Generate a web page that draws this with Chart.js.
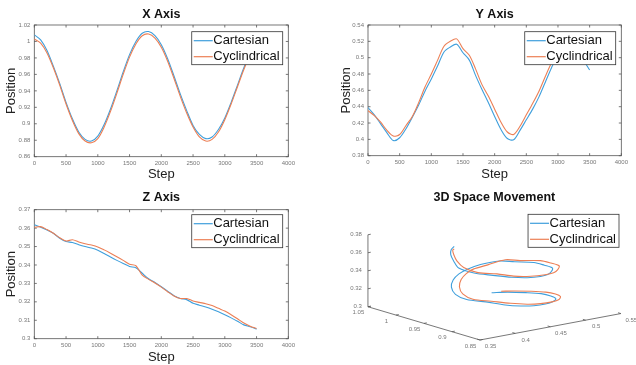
<!DOCTYPE html>
<html>
<head>
<meta charset="utf-8">
<script src="https://cdn.jsdelivr.net/npm/chart.js@4.4.0/dist/chart.umd.min.js"></script>
<style>
  html, body { margin: 0; padding: 0; background: #fff; overflow: hidden; }
  body { width: 636px; height: 365px; position: relative; }
  canvas { position: absolute; display: block; }
</style>
</head>
<body>
<canvas id="x-chart" width="318" height="182" style="left:0;top:0"></canvas>
<canvas id="y-chart" width="318" height="182" style="left:318px;top:0"></canvas>
<canvas id="z-chart" width="318" height="183" style="left:0;top:182px"></canvas>
<canvas id="space-chart" width="318" height="183" style="left:318px;top:182px"></canvas>
<script>
const steps = [0, 100, 200, 300, 400, 500, 600, 700, 800, 900, 1000, 1100, 1200, 1300, 1400, 1500, 1600, 1700,
  1800, 1900, 2000, 2100, 2200, 2300, 2400, 2500, 2600, 2700, 2800, 2900, 3000, 3100, 3200, 3300, 3400, 3500];
const seriesNames = ['Cartesian', 'Cyclindrical'];

const xCart = [1.008, 1.002, 0.989, 0.970, 0.949, 0.926, 0.906, 0.890, 0.881, 0.879, 0.885, 0.899, 0.918, 0.940,
  0.963, 0.984, 1.000, 1.010, 1.012, 1.007, 0.996, 0.979, 0.958, 0.936, 0.916, 0.898, 0.887, 0.882, 0.884, 0.893,
  0.907, 0.926, 0.947, 0.968, 0.986, 0.999];
const xCyl = [1.003, 0.998, 0.986, 0.968, 0.947, 0.924, 0.904, 0.888, 0.879, 0.877, 0.882, 0.896, 0.915, 0.937,
  0.960, 0.981, 0.997, 1.007, 1.009, 1.004, 0.993, 0.976, 0.955, 0.933, 0.913, 0.896, 0.884, 0.879, 0.881, 0.890,
  0.905, 0.924, 0.945, 0.966, 0.984, 0.997];

const yCart = [0.439, 0.430, 0.419, 0.408, 0.3985, 0.402, 0.413, 0.427, 0.442, 0.459, 0.474, 0.490, 0.507, 0.513,
  0.5165, 0.506, 0.497, 0.478, 0.461, 0.445, 0.428, 0.412, 0.401, 0.3995, 0.411, 0.424, 0.437, 0.452, 0.470, 0.488,
  0.503, 0.511, 0.514, 0.509, 0.497, 0.485];
const yCyl = [0.435, 0.429, 0.421, 0.411, 0.404, 0.406, 0.417, 0.428, 0.445, 0.464, 0.480, 0.497, 0.514, 0.520,
  0.523, 0.511, 0.503, 0.486, 0.467, 0.453, 0.437, 0.421, 0.409, 0.406, 0.416, 0.430, 0.444, 0.459, 0.477, 0.494,
  0.508, 0.516, 0.519, 0.515, 0.506, 0.497];

const zCart = [0.3618, 0.3605, 0.3590, 0.3572, 0.3545, 0.3527, 0.3522, 0.3510, 0.3500, 0.3492, 0.3480, 0.3462,
  0.3443, 0.3425, 0.3408, 0.3392, 0.3385, 0.3355, 0.3325, 0.3305, 0.3282, 0.3258, 0.3233, 0.3218, 0.3212, 0.3192,
  0.3182, 0.3172, 0.3160, 0.3146, 0.3130, 0.3113, 0.3095, 0.3075, 0.3065, 0.3052];
const zCyl = [0.3605, 0.3608, 0.3592, 0.3572, 0.3548, 0.3530, 0.3537, 0.3525, 0.3515, 0.3508, 0.3498, 0.3482,
  0.3464, 0.3445, 0.3425, 0.3404, 0.3396, 0.3345, 0.3322, 0.3302, 0.3280, 0.3255, 0.3232, 0.3218, 0.3218, 0.3205,
  0.3197, 0.3190, 0.3180, 0.3165, 0.3150, 0.3130, 0.3108, 0.3085, 0.3068, 0.3055];

// tick labels
const stepTicks = [0, 500, 1000, 1500, 2000, 2500, 3000, 3500, 4000];
const xPosTicks = [0.86, 0.88, 0.9, 0.92, 0.94, 0.96, 0.98, 1, 1.02];
const yPosTicks = [0.38, 0.4, 0.42, 0.44, 0.46, 0.48, 0.5, 0.52, 0.54];
const zPosTicks = [0.3, 0.31, 0.32, 0.33, 0.34, 0.35, 0.36, 0.37];
const space3dX = [0.85, 0.9, 0.95, 1, 1.05];
const space3dY = [0.35, 0.4, 0.45, 0.5, 0.55];
const space3dZ = [0.3, 0.32, 0.34, 0.36, 0.38];

const FONT = '"Liberation Sans", Arial, Helvetica, sans-serif';
const BLUE = '#3f9fdc';
const ORANGE = '#ec7f55';
const AXIS = '#555';

function fmt(v) { return String(+v.toFixed(2)); }

// box + inward ticks, matlab style
const matlabBox = {
  id: 'matlabBox',
  beforeDatasetsDraw(chart) {
    const {ctx, chartArea: a, scales} = chart;
    const t = 2.5;
    ctx.save();
    ctx.strokeStyle = AXIS;
    ctx.lineWidth = 0.8;
    ctx.strokeRect(a.left, a.top, a.right - a.left, a.bottom - a.top);
    ctx.beginPath();
    scales.x.ticks.forEach(tk => {
      const p = scales.x.getPixelForValue(tk.value);
      ctx.moveTo(p, a.bottom); ctx.lineTo(p, a.bottom - t);
      ctx.moveTo(p, a.top); ctx.lineTo(p, a.top + t);
    });
    scales.y.ticks.forEach(tk => {
      const p = scales.y.getPixelForValue(tk.value);
      ctx.moveTo(a.left, p); ctx.lineTo(a.left + t, p);
      ctx.moveTo(a.right, p); ctx.lineTo(a.right - t, p);
    });
    ctx.stroke();
    ctx.restore();
  }
};

const panelTitle = {
  id: 'panelTitle',
  afterDraw(chart, args, opts) {
    const {ctx, chartArea: a} = chart;
    const cx = opts.centerX ? opts.centerX(chart) : (a.left + a.right) / 2;
    ctx.save();
    ctx.font = 'bold 12.5px ' + FONT;
    ctx.fillStyle = '#111';
    ctx.textAlign = 'center';
    ctx.textBaseline = 'middle';
    ctx.fillText(opts.text, cx, opts.y);
    ctx.restore();
  }
};

const boxLegend = {
  id: 'boxLegend',
  afterDraw(chart, args, opts) {
    const {ctx, chartArea: a} = chart;
    const sets = chart.data.datasets;
    ctx.save();
    ctx.font = '13px ' + FONT;
    const w = Math.max(...sets.map(d => ctx.measureText(d.label).width)) + 24.5;
    const h = 33;
    const right = a.right - opts.right;
    const top = a.top + opts.top;
    const left = right - w;
    ctx.fillStyle = '#fff';
    ctx.fillRect(left, top, w, h);
    ctx.strokeStyle = '#333';
    ctx.lineWidth = 0.8;
    ctx.strokeRect(left, top, w, h);
    sets.forEach((d, i) => {
      const y = top + 9 + i * 16;
      ctx.strokeStyle = d.borderColor;
      ctx.lineWidth = 1.2;
      ctx.beginPath();
      ctx.moveTo(left + 2, y);
      ctx.lineTo(left + 21, y);
      ctx.stroke();
      ctx.fillStyle = '#111';
      ctx.textBaseline = 'middle';
      ctx.fillText(d.label, left + 21.5, y);
    });
    ctx.restore();
  }
};

function lineChart(id, cfg) {
  const canvas = document.getElementById(id);
  const W = canvas.width, H = canvas.height;
  const pts = vals => steps.map((s, i) => ({x: s, y: vals[i]}));
  const tickFont = {size: 6, family: FONT};
  return new Chart(canvas, {
    type: 'line',
    data: {
      datasets: [
        {label: seriesNames[0], data: pts(cfg.cart), borderColor: BLUE, order: 2},
        {label: seriesNames[1], data: pts(cfg.cyl), borderColor: ORANGE, order: 1}
      ]
    },
    options: {
      responsive: false,
      animation: false,
      events: [],
      elements: {
        point: {radius: 0},
        line: {borderWidth: 1.1, tension: 0.3, fill: false}
      },
      layout: {padding: {top: cfg.area.top, right: W - cfg.area.right, left: 0, bottom: 0}},
      scales: {
        x: {
          type: 'linear', min: 0, max: 4000,
          afterBuildTicks: s => { s.ticks = stepTicks.map(v => ({value: v})); },
          afterFit: s => { s.height = H - cfg.area.bottom; },
          grid: {display: false, drawTicks: false},
          border: {display: false},
          ticks: {font: tickFont, color: '#777', padding: 2.6, maxRotation: 0, autoSkip: false, callback: v => String(v)},
          title: {display: true, text: 'Step', font: {size: 13, family: FONT}, color: '#222', padding: {top: 0, bottom: 0}}
        },
        y: {
          type: 'linear', min: cfg.ticks[0], max: cfg.ticks[cfg.ticks.length - 1],
          afterBuildTicks: s => { s.ticks = cfg.ticks.map(v => ({value: v})); },
          afterFit: s => { s.width = cfg.area.left; },
          grid: {display: false, drawTicks: false},
          border: {display: false},
          ticks: {font: tickFont, color: '#777', padding: 4, autoSkip: false, callback: v => fmt(v)},
          title: {display: true, text: 'Position', font: {size: 13, family: FONT}, color: '#222', padding: {top: cfg.titlePad, bottom: 0}}
        }
      },
      plugins: {
        legend: {display: false},
        tooltip: {enabled: false},
        panelTitle: {text: cfg.title, y: cfg.titleY},
        boxLegend: {right: 5.6, top: cfg.legendTop}
      }
    },
    plugins: [matlabBox, panelTitle, boxLegend]
  });
}

lineChart('x-chart', {
  title: 'X Axis', titleY: 15, cart: xCart, cyl: xCyl, ticks: xPosTicks,
  area: {left: 34.3, right: 288.3, top: 25, bottom: 156.7}, titlePad: 4, legendTop: 6.7
});
lineChart('y-chart', {
  title: 'Y Axis', titleY: 15, cart: yCart, cyl: yCyl, ticks: yPosTicks,
  area: {left: 50, right: 303.3, top: 25, bottom: 155.7}, titlePad: 20.5, legendTop: 6.7
});
lineChart('z-chart', {
  title: 'Z Axis', titleY: 16, cart: zCart, cyl: zCyl, ticks: zPosTicks,
  area: {left: 34.3, right: 288.3, top: 27.7, bottom: 156.7}, titlePad: 4, legendTop: 5
});

// 3D view: orthographic projection of the normalised box
const view3d = {az: 128.5, el: -13.65, zAspect: 0.4};
const lim = arr => [arr[0], arr[arr.length - 1]];
const [x3a, x3b] = lim(space3dX), [y3a, y3b] = lim(space3dY), [z3a, z3b] = lim(space3dZ);
function project(x, y, z) {
  const X = (x - x3a) / (x3b - x3a), Y = (y - y3a) / (y3b - y3a), Z = (z - z3a) / (z3b - z3a);
  const az = view3d.az * Math.PI / 180, se = Math.sin(view3d.el * Math.PI / 180);
  return {
    x: Math.cos(az) * X + Math.sin(az) * Y,
    y: -se * Math.sin(az) * X + se * Math.cos(az) * Y + view3d.zAspect * Z
  };
}

const axes3d = {
  id: 'axes3d',
  beforeDatasetsDraw(chart) {
    const {ctx, scales: {x: sx, y: sy}} = chart;
    const px = (x, y, z) => { const p = project(x, y, z); return [sx.getPixelForValue(p.x), sy.getPixelForValue(p.y)]; };
    const seg = (a, b) => { ctx.moveTo(a[0], a[1]); ctx.lineTo(b[0], b[1]); };
    ctx.save();
    ctx.strokeStyle = AXIS;
    ctx.lineWidth = 0.8;
    ctx.beginPath();
    seg(px(x3b, y3a, z3a), px(x3b, y3a, z3b));
    seg(px(x3a, y3a, z3a), px(x3b, y3a, z3a));
    seg(px(x3a, y3a, z3a), px(x3a, y3b, z3a));
    const dy = 0.02 * (y3b - y3a), dx = 0.025 * (x3b - x3a);
    space3dZ.forEach(z => seg(px(x3b, y3a, z), px(x3b, y3a + dy, z)));
    space3dX.forEach(x => seg(px(x, y3a, z3a), px(x, y3a + dy, z3a)));
    space3dY.forEach(y => seg(px(x3a, y, z3a), px(x3a + dx, y, z3a)));
    ctx.stroke();

    ctx.font = '6px ' + FONT;
    ctx.fillStyle = '#777';
    ctx.textBaseline = 'middle';
    ctx.textAlign = 'right';
    space3dZ.forEach(z => { const p = px(x3b, y3a, z); ctx.fillText(fmt(z), p[0] - 6, p[1]); });
    ctx.textAlign = 'center';
    space3dX.forEach(x => { const p = px(x, y3a, z3a); ctx.fillText(fmt(x), p[0] - 9.5, p[1] + 6); });
    space3dY.forEach(y => { const p = px(x3a, y, z3a); ctx.fillText(fmt(y), p[0] + 10.5, p[1] + 6.5); });
    ctx.restore();
  }
};

const spaceCanvas = document.getElementById('space-chart');
const trace = (xs, ys, zs) => steps.map((s, i) => project(xs[i], ys[i], zs[i]));
new Chart(spaceCanvas, {
  type: 'scatter',
  data: {
    datasets: [
      {label: seriesNames[0], data: trace(xCart, yCart, zCart), borderColor: BLUE, showLine: true, order: 2},
      {label: seriesNames[1], data: trace(xCyl, yCyl, zCyl), borderColor: ORANGE, showLine: true, order: 1}
    ]
  },
  options: {
    responsive: false,
    animation: false,
    events: [],
    elements: {
      point: {radius: 0},
      line: {borderWidth: 1.1, tension: 0.3, fill: false}
    },
    layout: {padding: 0},
    scales: {
      x: {type: 'linear', display: false, min: -0.9, max: 0.8667},
      y: {type: 'linear', display: false, min: -0.1389, max: 0.8778}
    },
    plugins: {
      legend: {display: false},
      tooltip: {enabled: false},
      panelTitle: {
        text: '3D Space Movement', y: 16,
        centerX: chart => {
          const s = chart.scales.x;
          return (s.getPixelForValue(project(x3b, y3a, z3a).x) + s.getPixelForValue(project(x3a, y3b, z3a).x)) / 2;
        }
      },
      boxLegend: {right: 17, top: 32.3}
    }
  },
  plugins: [axes3d, panelTitle, boxLegend]
});
</script>
</body>
</html>
